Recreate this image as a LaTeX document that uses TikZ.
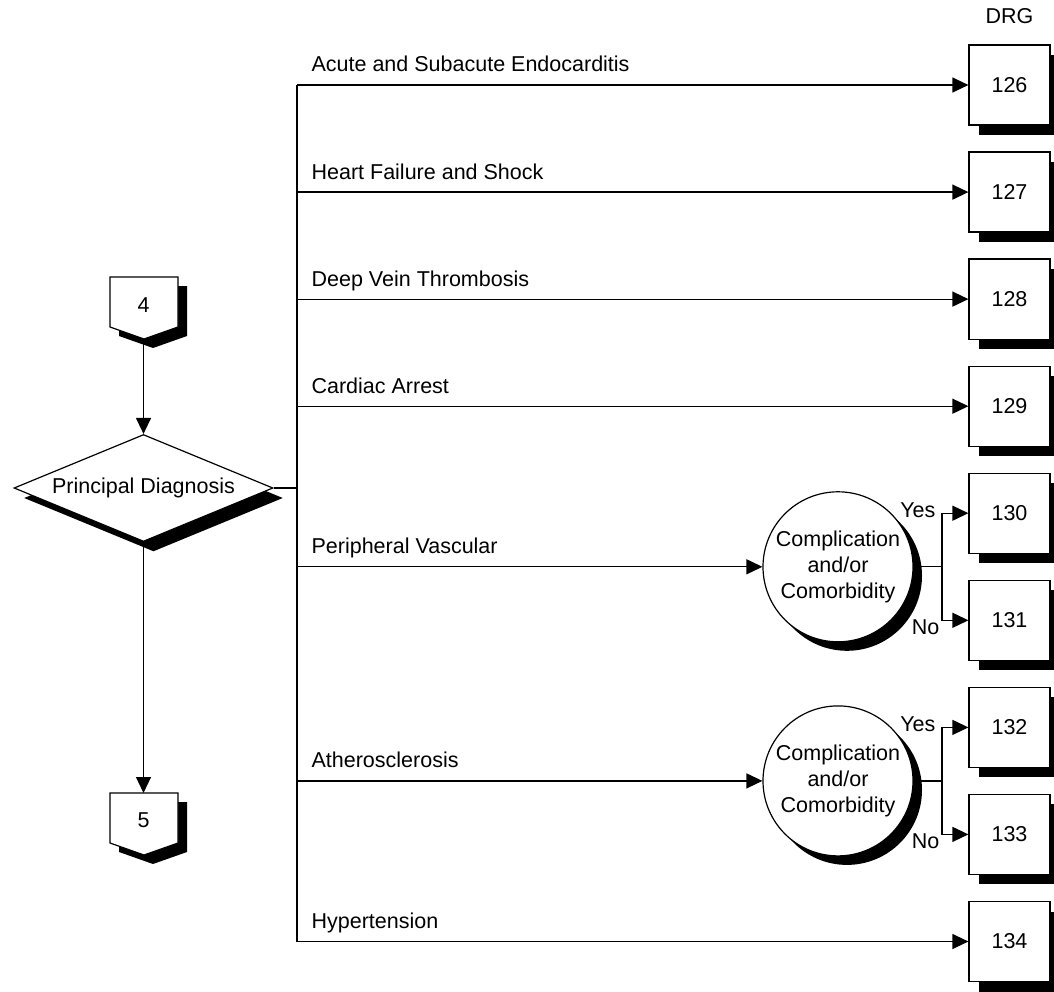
\documentclass[tikz,border=0pt]{standalone}
\usepackage{fontspec}
\setmainfont{Liberation Sans}
\usetikzlibrary{shapes.geometric,shadows,arrows.meta}
\begin{document}
\begin{tikzpicture}[x=1pt,y=-1pt,
  font=\fontsize{21.5}{26}\selectfont,
  line width=1.2pt,
  blackshadow/.style={drop shadow={fill=black,opacity=1,shadow xshift=#1,shadow yshift=-#1}},
  drgbox/.style={draw,fill=white,minimum width=81pt,minimum height=80pt,inner sep=0pt,blackshadow=10pt},
  decision/.style={draw,fill=white,diamond,aspect=2.42,minimum width=259pt,minimum height=107pt,inner sep=0pt,blackshadow=10pt},
  cc/.style={draw,fill=white,circle,minimum size=150pt,inner sep=0pt,align=center,blackshadow=9pt},
  branch/.style={anchor=base west,inner sep=0pt},
  yn/.style={anchor=base east,inner sep=0pt},
  arr/.style={-{Triangle[length=16pt,width=15pt]}},
]
\useasboundingbox (0,0) rectangle (1054,992);

% ---- off-page connectors (pentagons with solid shadow) ----
\def\pent#1#2{%
  \fill[black,shift={(9,9)}] (110,#1) -- (178,#1) -- (178,#1+50) -- (144,#1+62) -- (110,#1+50) -- cycle;
  \draw[fill=white] (110,#1) -- (178,#1) -- (178,#1+50) -- (144,#1+62) -- (110,#1+50) -- cycle;}
\pent{277}{4}
\pent{793}{5}
\node (c4) at (143.5,305) {4};
\node (c5) at (143.5,820) {5};
\coordinate (c4tip) at (143.5,339);
\coordinate (c5top) at (143.5,793);

% ---- principal diagnosis ----
\node[decision] (pd) at (143.5,488) {Principal Diagnosis};
\draw[arr] (c4tip) -- (pd.north);
\draw[arr] (pd.south) -- (c5top);

% ---- DRG column ----
\node (drg) at (1009.5,16) {DRG};
\foreach \n/\y in {126/85,127/192.1,128/299.1,129/406.2,130/513.2,131/620.3,132/727.4,133/834.4,134/941.5}
  \node[drgbox] (b\n) at (1009.5,\y) {\n};

% ---- trunk ----
\coordinate (t126) at (297,85);
\coordinate (t127) at (297,192.1);
\coordinate (t128) at (297,299.1);
\coordinate (t129) at (297,406.2);
\coordinate (tpv)  at (297,566.8);
\coordinate (tath) at (297,780.9);
\coordinate (t134) at (297,941.5);
\draw (t126) -- (t134);
\draw (pd.east) -- (pd.east -| t126);

% ---- direct branches ----
\node[branch] (l126) at (311,72) {Acute and Subacute Endocarditis};
\node[branch] (l127) at (311,179.1) {Heart Failure and Shock};
\node[branch] (l128) at (311,286.1) {Deep Vein Thrombosis};
\node[branch] (l129) at (311,393.2) {Cardiac Arrest};
\node[branch] (l134) at (311,928.5) {Hypertension};
\draw[arr] (t126) -- (b126.west);
\draw[arr] (t127) -- (b127.west);
\draw[arr] (t128) -- (b128.west);
\draw[arr] (t129) -- (b129.west);
\draw[arr] (t134) -- (b134.west);

% ---- branches through complication check ----
\node[branch] (lpv)  at (311,553.8) {Peripheral Vascular};
\node[branch] (lath) at (311,767.9) {Atherosclerosis};
\node[cc] (cc1) at (838,566.8) {Complication\\and/or\\Comorbidity};
\node[cc] (cc2) at (838,780.9) {Complication\\and/or\\Comorbidity};
\draw[arr] (tpv) -- (cc1.west);
\draw[arr] (tath) -- (cc2.west);

\coordinate (s1) at (942,566.8);
\coordinate (s2) at (942,780.9);
\draw (cc1.east) -- (s1);
\draw (cc2.east) -- (s2);
\draw[arr] (s1) |- (b130.west);
\draw[arr] (s1) |- (b131.west);
\draw[arr] (s2) |- (b132.west);
\draw[arr] (s2) |- (b133.west);

\node[yn] (y1) at (936,517.2) {Yes};
\node[yn] (n1) at (940,634.3) {No};
\node[yn] (y2) at (936,731.4) {Yes};
\node[yn] (n2) at (940,848.4) {No};
\end{tikzpicture}
\end{document}
